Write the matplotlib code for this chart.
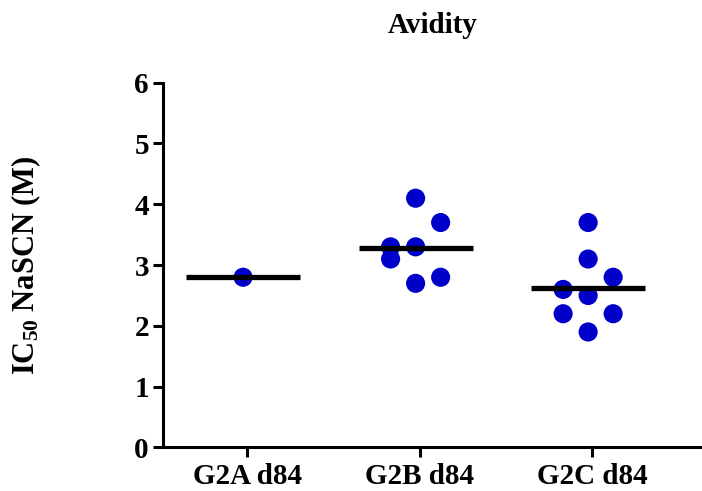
import numpy as np
import matplotlib
matplotlib.use('Agg')
from matplotlib import pyplot as plt

plt.rcParams['font.family'] = 'Liberation Serif'
plt.rcParams['font.weight'] = 'bold'
plt.rcParams['mathtext.fontset'] = 'custom'
plt.rcParams['mathtext.bf'] = 'Liberation Serif:bold'
plt.rcParams['mathtext.rm'] = 'Liberation Serif:bold'
plt.rcParams['mathtext.default'] = 'bf'

groups = ['G2A d84', 'G2B d84', 'G2C d84']
g2a = [2.8]
g2b = [4.1, 3.7, 3.3, 3.3, 3.1, 2.8, 2.7]
g2c = [3.7, 3.1, 2.8, 2.6, 2.5, 2.2, 2.2, 1.9]
yticks = [0, 1, 2, 3, 4, 5, 6]

# swarm column of each point (layout only)
g2a_cols = [0]
g2b_cols = [0, 1, -1, 0, -1, 1, 0]
g2c_cols = [0, 0, 1, -1, 0, -1, 1, 0]

fig = plt.figure(figsize=(7.02, 4.91), dpi=100)
ax = fig.add_axes([0.232, 0.0886, 0.768, 0.743])

step = 0.145
half = 0.33
for i, (vals, cols) in enumerate(zip([g2a, g2b, g2c], [g2a_cols, g2b_cols, g2c_cols])):
    xs = i - 0.025 + step * np.array(cols)
    ax.scatter(xs, vals, s=190, color='#0000c8', edgecolors='none', zorder=2)
    m = np.mean(vals)
    ax.plot([i - 0.025 - half, i - 0.025 + half], [m, m], color='black', lw=3.8,
            solid_capstyle='butt', zorder=3)

ax.set_xlim(-0.49, 2.635)
ax.set_ylim(0, 6)
ax.set_xticks(range(len(groups)))
ax.set_xticklabels(groups, fontsize=21, fontweight='bold')
ax.set_yticks(yticks)
ax.set_yticklabels([str(t) for t in yticks], fontsize=21, fontweight='bold')
ax.tick_params(width=2.2, length=7)
ax.tick_params(axis='y', pad=3)
ax.tick_params(axis='x', pad=4)
for side in ['top', 'right']:
    ax.spines[side].set_visible(False)
for side in ['left', 'bottom']:
    ax.spines[side].set_linewidth(2.2)

ax.set_ylabel(r'IC$_{50}$ NaSCN (M)', fontsize=22, fontweight='bold')
ax.yaxis.set_label_coords(-0.223, 0.5)
fig.text(0.616, 0.948, 'Avidity', ha='center', va='center', fontsize=21,
         fontweight='bold')

fig.savefig('out.png', dpi=100)
